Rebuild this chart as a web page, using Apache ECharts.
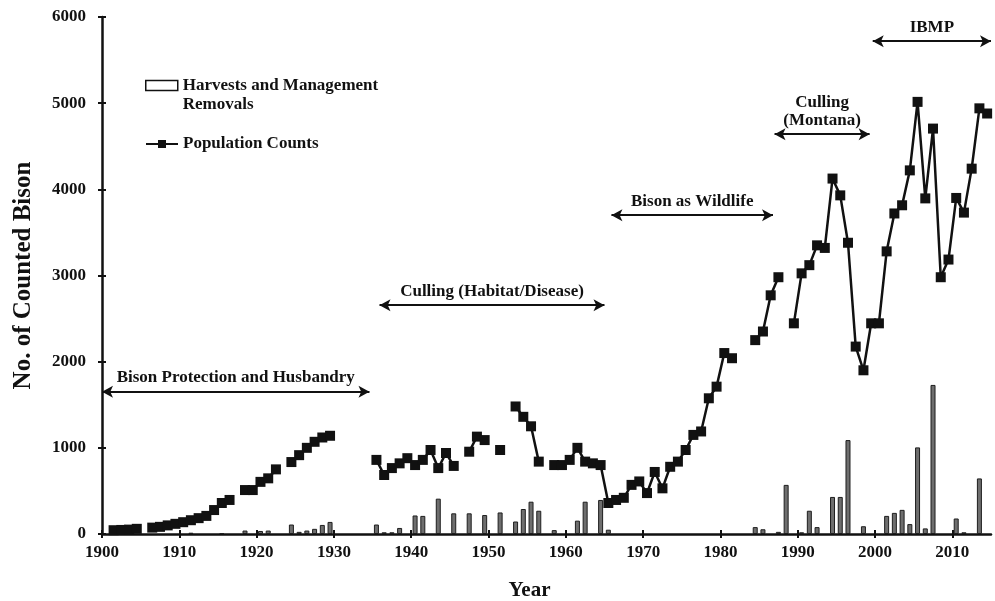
<!DOCTYPE html>
<html>
<head>
<meta charset="utf-8">
<script src="https://cdn.jsdelivr.net/npm/echarts@6/dist/echarts.min.js"></script>
<style>
  html, body { margin: 0; padding: 0; background: #fff; }
  #chart { width: 995px; height: 601px; }
</style>
</head>
<body>
<div id="chart"></div>
<script>
const FONT = '"Liberation Serif", "Times New Roman", serif';
const INK = '#111';
const HARVEST = 'Harvests and Management Removals';
const POPULATION = 'Population Counts';

// population counts, '-' = no count that year (line breaks there)
const popYears = [
  1901, 1902, 1903, 1904, 1905,
  1906, 1907, 1908, 1909, 1910, 1911, 1912, 1913, 1914, 1915, 1916, 1917,
  1918, 1919, 1920, 1921, 1922, 1923,
  1924, 1925, 1926, 1927, 1928, 1929, 1930,
  1935, 1936, 1937, 1938, 1939, 1940, 1941, 1942, 1943, 1944, 1945, 1946,
  1947, 1948, 1949, 1950,
  1951, 1952,
  1953, 1954, 1955, 1956, 1957,
  1958, 1959, 1960, 1961, 1962, 1963, 1964, 1965, 1966, 1967, 1968, 1969,
  1970, 1971, 1972, 1973, 1974, 1975, 1976, 1977, 1978, 1979, 1980, 1981, 1982,
  1984, 1985, 1986, 1987, 1988,
  1989, 1990, 1991, 1992, 1993, 1994, 1995, 1996, 1997, 1998, 1999,
  2000, 2001, 2002, 2003, 2004, 2005, 2006, 2007, 2008, 2009, 2010,
  2011, 2012, 2013, 2014
];
const popCounts = [
  44, 47, 51, 60, '-',
  74, 83, 100, 118, 137, 160, 184, 210, 278, 360, 395, '-',
  510, 510, 605, 646, 750, '-',
  835, 915, 1000, 1070, 1120, 1140, '-',
  860, 685, 765, 820, 880, 800, 860, 975, 765, 940, 790, '-',
  955, 1130, 1090, '-',
  975, '-',
  1480, 1360, 1250, 840, '-',
  800, 800, 860, 1000, 840, 820, 800, 360, 395, 420, 570, 610,
  475, 720, 530, 780, 840, 975, 1150, 1190, 1575, 1710, 2100, 2040, '-',
  2250, 2350, 2770, 2980, '-',
  2445, 3025, 3120, 3350, 3320, 4125, 3930, 3380, 2175, 1900, 2445,
  2445, 3280, 3720, 3815, 4220, 5015, 3895, 4705, 2980, 3185, 3900,
  3730, 4240, 4940, 4880
];

// harvests and management removals
const harvestYears = [
  1911, 1915, 1918, 1920, 1921, 1924, 1925, 1926, 1927, 1928, 1929,
  1935, 1936, 1937, 1938, 1940, 1941, 1943, 1945, 1947, 1949,
  1951, 1953, 1954, 1955, 1956, 1958, 1961, 1962, 1964, 1965,
  1984, 1985, 1987, 1988, 1990, 1991, 1992, 1994, 1995, 1996, 1998,
  2001, 2002, 2003, 2004, 2005, 2006, 2007, 2010, 2011, 2013
];
const harvestCounts = [
  15, 10, 40, 35, 40, 110, 25, 40, 60, 105, 140,
  110, 20, 20, 70, 215, 210, 410, 240, 240, 220,
  250, 145, 290, 375, 270, 45, 155, 375, 395, 50,
  80, 55, 25, 570, 20, 270, 80, 430, 430, 1090, 90,
  210, 245, 280, 115, 1005, 65, 1730, 180, 20, 645
];

const xTicks = [1900, 1910, 1920, 1930, 1940, 1950, 1960, 1970, 1980, 1990, 2000, 2010];

// management periods drawn as arrows
const periods = [
  { name: 'Bison Protection and Husbandry', from: 1900, to: 1934.6, level: 1650 },
  { name: 'Culling (Habitat/Disease)', from: 1935.9, to: 1965.0, level: 2655 },
  { name: 'Bison as Wildlife', from: 1965.9, to: 1986.8, level: 3700 },
  { name: 'Culling\n(Montana)', from: 1987.0, to: 1999.3, level: 4640 },
  { name: 'IBMP', from: 1999.7, to: 2015, level: 5720 }
];

// counts are plotted in the middle of each year
const popData = popYears.map((y, i) => [y + 0.5, popCounts[i]]);
const harvestData = harvestYears.map((y, i) => [y + 0.5, harvestCounts[i]]);

const textBold = { fontFamily: FONT, fontWeight: 'bold', color: INK };
const plain = v => String(v);

function xAxisBase(extra) {
  return Object.assign({
    type: 'value', min: 1900, max: 2015, interval: 10, position: 'bottom',
    splitLine: { show: false }
  }, extra);
}
function yAxisBase(extra) {
  return Object.assign({
    type: 'value', min: 0, max: 6000, interval: 1000, position: 'left',
    splitLine: { show: false }
  }, extra);
}

const chart = echarts.init(document.getElementById('chart'));
chart.setOption({
  animation: false,
  backgroundColor: '#fff',
  grid: { left: 102, right: 4, top: 17, bottom: 67, outerBoundsMode: 'none' },
  legend: [{
    data: [{ name: HARVEST, icon: 'rect', itemStyle: { color: '#fff', borderColor: INK, borderWidth: 1.5 } }],
    left: 145, top: 58, padding: 0,
    itemWidth: 32, itemHeight: 10,
    selectedMode: false,
    // blank first line keeps the box level with the first text line
    formatter: () => '{s| }\n{t|Harvests and Management}\n{t|Removals}',
    textStyle: Object.assign({
      fontSize: 17,
      rich: {
        s: { fontSize: 17, lineHeight: 19, fontFamily: FONT },
        t: Object.assign({ fontSize: 17, lineHeight: 19 }, textBold)
      }
    }, textBold)
  }, {
    data: [{ name: POPULATION }],
    left: 145, top: 134, padding: 0,
    itemWidth: 32, itemHeight: 10,
    selectedMode: false,
    textStyle: Object.assign({ fontSize: 17, lineHeight: 20 }, textBold)
  }],
  xAxis: [
    xAxisBase({
      name: 'Year', nameLocation: 'middle', nameGap: 46,
      nameTextStyle: Object.assign({ fontSize: 21, padding: [0, 34, 0, 0] }, textBold),
      axisLine: { lineStyle: { color: INK, width: 2.5 } },
      axisTick: { length: 4, customValues: xTicks, lineStyle: { color: INK, width: 2 } },
      axisLabel: Object.assign({ customValues: xTicks, margin: 10, fontSize: 17, formatter: plain }, textBold)
    }),
    xAxisBase({
      axisLine: { show: false },
      axisTick: { inside: true, length: 4, customValues: xTicks, lineStyle: { color: INK, width: 2 } },
      axisLabel: { show: false }
    })
  ],
  yAxis: [
    yAxisBase({
      name: 'No. of Counted Bison', nameLocation: 'middle', nameGap: 66, nameRotate: 90,
      nameTextStyle: Object.assign({ fontSize: 25 }, textBold),
      axisLine: { lineStyle: { color: INK, width: 2.5 } },
      axisTick: { length: 4, lineStyle: { color: INK, width: 2 } },
      axisLabel: Object.assign({ margin: 16, fontSize: 17, formatter: plain }, textBold)
    }),
    yAxisBase({
      axisLine: { show: false },
      axisTick: { inside: true, length: 4, lineStyle: { color: INK, width: 2 } },
      axisLabel: { show: false }
    })
  ],
  series: [{
    name: HARVEST,
    type: 'bar',
    data: harvestData,
    barWidth: 5,
    itemStyle: { color: '#6e6e6e', borderColor: '#1e1e1e', borderWidth: 1 },
    markLine: {
      silent: true,
      symbol: ['arrow', 'arrow'],
      symbolSize: [9, 11],
      lineStyle: { color: INK, width: 2, type: 'solid' },
      label: Object.assign({
        show: true, position: 'insideMiddleTop', distance: 5,
        formatter: '{b}', fontSize: 17, lineHeight: 18
      }, textBold),
      data: periods.map(p => [
        { coord: [p.from, p.level], name: p.name },
        { coord: [p.to, p.level] }
      ])
    }
  }, {
    name: POPULATION,
    type: 'line',
    data: popData,
    connectNulls: false,
    symbol: 'rect',
    symbolSize: 10,
    z: 5,
    itemStyle: { color: INK },
    lineStyle: { color: INK, width: 2.5 }
  }]
});
</script>
</body>
</html>
